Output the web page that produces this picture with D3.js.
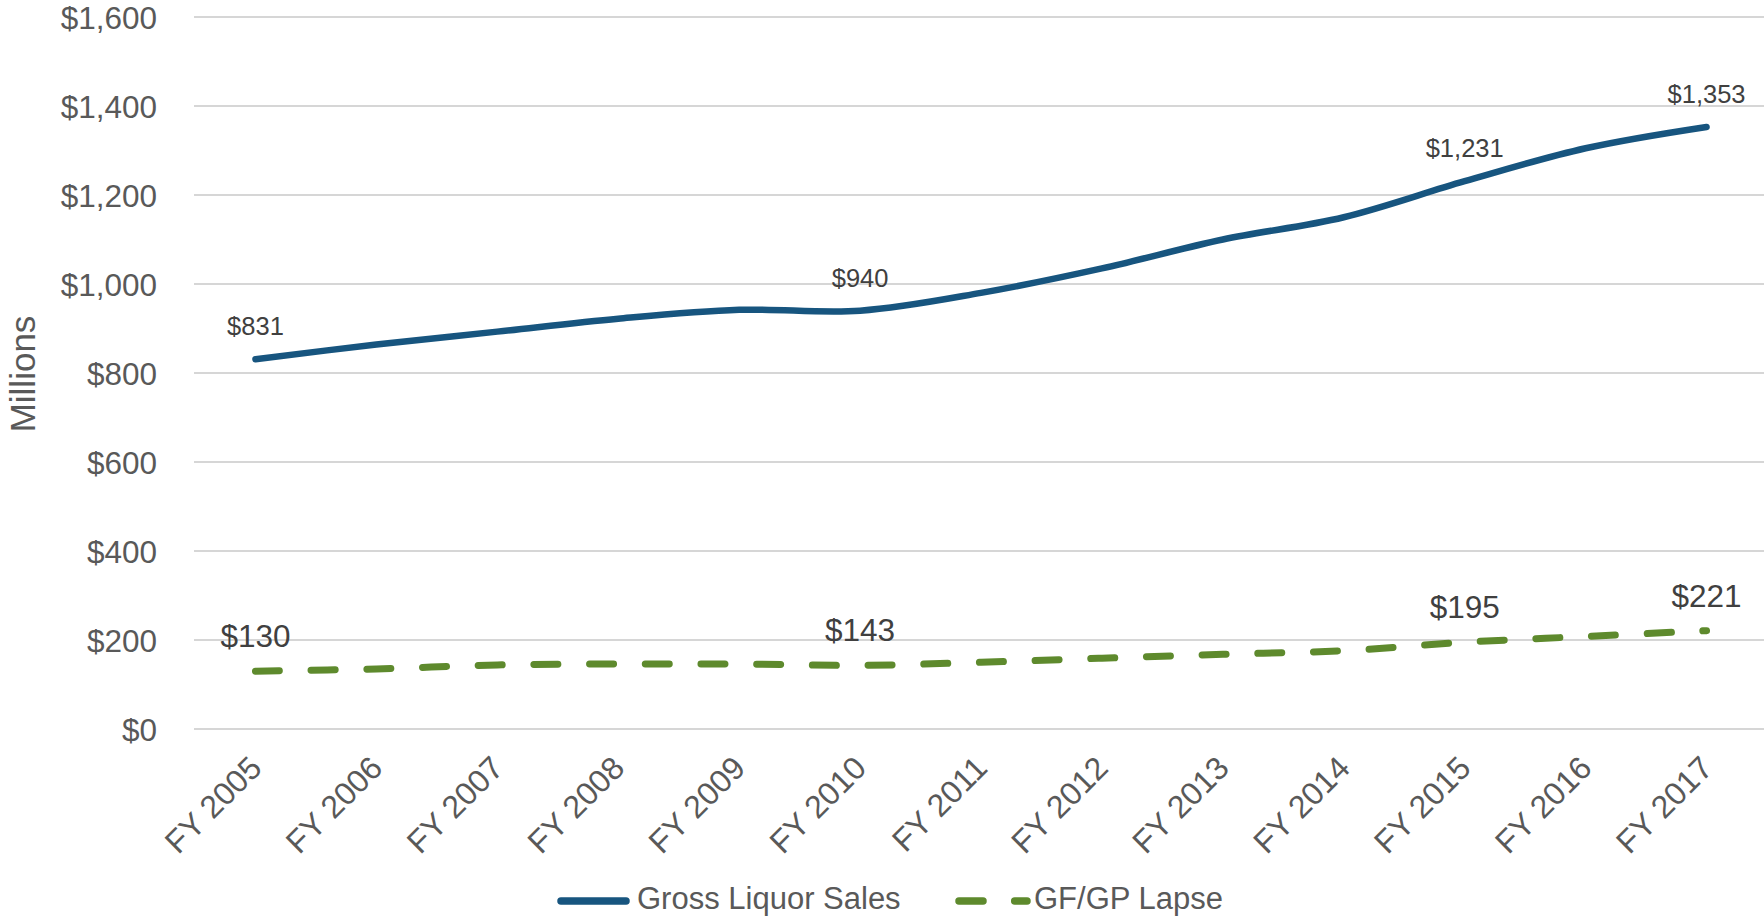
<!DOCTYPE html>
<html>
<head>
<meta charset="utf-8">
<script src="https://cdn.jsdelivr.net/npm/d3@7"></script>
<style>
  html, body { margin: 0; padding: 0; background: #fff; }
  svg { display: block; font-family: "Liberation Sans", Arial, sans-serif; }
</style>
</head>
<body>
<svg id="chart" width="1764" height="916"></svg>
<script>
const categories = ["FY 2005","FY 2006","FY 2007","FY 2008","FY 2009","FY 2010","FY 2011","FY 2012","FY 2013","FY 2014","FY 2015","FY 2016","FY 2017"];
const grossSales = [831, 864, 893, 922, 942, 940, 980, 1035, 1100, 1150, 1231, 1305, 1353];
const gfgpLapse = [130, 135, 144, 146, 146, 143, 150, 159, 168, 176, 195, 208, 221];
const yTicks = [0, 200, 400, 600, 800, 1000, 1200, 1400, 1600];
const labeledIdx = [0, 5, 10, 12];
const seriesNames = ["Gross Liquor Sales", "GF/GP Lapse"];

const svg = d3.select("#chart");
const W = 1764, H = 916;
const blue = "#17557F", green = "#5E8A2D", grid = "#C9C9C9", txt = "#595959", lbl = "#404040";

const x = d3.scaleBand().domain(categories).range([195, 1767]);
const cx = c => x(c) + x.bandwidth() / 2;
const y = d3.scaleLinear().domain([0, 1600]).range([729, 17]);
const fmt = v => "$" + d3.format(",")(v);

// gridlines
svg.append("g").selectAll("line").data(yTicks).join("line")
  .attr("x1", 194).attr("x2", W)
  .attr("y1", d => y(d)).attr("y2", d => y(d))
  .attr("stroke", grid).attr("stroke-width", 1.5);

// y axis labels via d3 axis
const yAxis = svg.append("g").attr("transform", "translate(157,0)")
  .call(d3.axisLeft(y).tickValues(yTicks).tickFormat(fmt).tickSize(0).tickPadding(0));
yAxis.select(".domain").remove();
yAxis.selectAll("text").attr("fill", txt).style("font-size", "31.5px")
  .style("font-family", "'Liberation Sans', Arial, sans-serif").attr("dy", "0.35em");

// x axis labels
const xAxis = svg.append("g").attr("transform", "translate(0,729)")
  .call(d3.axisBottom(x).tickSize(0).tickPadding(0));
xAxis.select(".domain").remove();
xAxis.selectAll("text")
  .attr("fill", txt).style("font-size", "32px")
  .style("font-family", "'Liberation Sans', Arial, sans-serif")
  .attr("text-anchor", "end")
  .attr("dy", 0).attr("y", 0)
  .attr("transform", "translate(8,41) rotate(-45)");

// y title
svg.append("text").attr("transform", "translate(35,374) rotate(-90)")
  .attr("text-anchor", "middle").attr("fill", txt).style("font-size", "35px")
  .text("Millions");

// lines
const line = d3.line().x((d, i) => cx(categories[i])).y(d => y(d))
  .curve(d3.curveCatmullRom.alpha(0));

svg.append("path").datum(grossSales).attr("d", line)
  .attr("fill", "none").attr("stroke", blue).attr("stroke-width", 6.5)
  .attr("stroke-linecap", "round").attr("stroke-linejoin", "round");

svg.append("path").datum(gfgpLapse).attr("d", line)
  .attr("fill", "none").attr("stroke", green).attr("stroke-width", 7)
  .attr("stroke-linecap", "round").attr("stroke-dasharray", "24 31.7");

// data labels
svg.append("g").selectAll("text").data(labeledIdx).join("text")
  .attr("x", i => cx(categories[i])).attr("y", i => y(grossSales[i]) - 24)
  .attr("text-anchor", "middle").attr("fill", lbl).style("font-size", "25.5px")
  .text(i => fmt(grossSales[i]));

svg.append("g").selectAll("text").data(labeledIdx).join("text")
  .attr("x", i => cx(categories[i])).attr("y", i => y(gfgpLapse[i]) - 24)
  .attr("text-anchor", "middle").attr("fill", lbl).style("font-size", "31.5px")
  .text(i => fmt(gfgpLapse[i]));

// legend
const lg = svg.append("g");
lg.append("line").attr("x1", 561).attr("x2", 626).attr("y1", 901).attr("y2", 901)
  .attr("stroke", blue).attr("stroke-width", 7.5).attr("stroke-linecap", "round");
lg.append("text").attr("x", 637).attr("y", 909).attr("fill", txt).style("font-size", "31px")
  .text(seriesNames[0]);
lg.append("line").attr("x1", 959).attr("x2", 1027).attr("y1", 901).attr("y2", 901)
  .attr("stroke", green).attr("stroke-width", 7.5).attr("stroke-linecap", "round")
  .attr("stroke-dasharray", "24 31.7");
lg.append("text").attr("x", 1034).attr("y", 909).attr("fill", txt).style("font-size", "31px")
  .text(seriesNames[1]);
</script>
</body>
</html>
